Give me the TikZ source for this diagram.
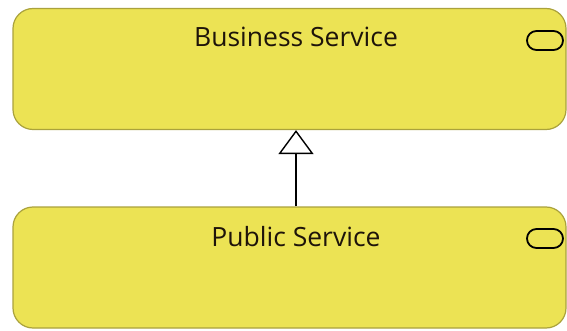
\documentclass[tikz,border=0pt]{standalone}
\usepackage{fontspec}
\setmainfont{Open Sans}
\usepackage{xcolor}
\usetikzlibrary{arrows.meta}

\definecolor{bizfill}{RGB}{236,227,84}
\definecolor{bizline}{RGB}{170,162,60}
\definecolor{bizink}{RGB}{30,20,10}

\tikzset{
    svcbox/.style={draw=bizline, fill=bizfill, line width=1.2pt, rounded corners=20pt,
        minimum width=553pt, minimum height=121pt, inner sep=0pt},
    svctitle/.style={anchor=base, inner sep=0pt, text=bizink, font=\fontsize{26.5}{32}\selectfont},
    svcicon/.style={draw=black, line width=1.8pt, rounded corners=9.5pt},
    spec/.style={draw=black, line width=1.6pt, -{Triangle[open, width=35pt, length=24pt, line width=1.4pt]}}
}

\begin{document}
\begin{tikzpicture}[x=1pt, y=-1pt]
    \useasboundingbox (0,0) rectangle (567,331);
    % the two services
    \node[svcbox] (bsvc) at (289.5,69) {};
    \node[svcbox] (psvc) at (289.5,267.5) {};
    \node[svctitle] (bsvcname) at (296,47) {Business Service};
    \node[svctitle] (psvcname) at (296,246) {Public Service};
    % service icons
    \draw[svcicon] (527,31) rectangle (563,50);
    \draw[svcicon] (527,229) rectangle (563,248);
    % specialization
    \draw[spec] (psvc.north -| bsvcname) -- (bsvc.south -| bsvcname);
\end{tikzpicture}
\end{document}
